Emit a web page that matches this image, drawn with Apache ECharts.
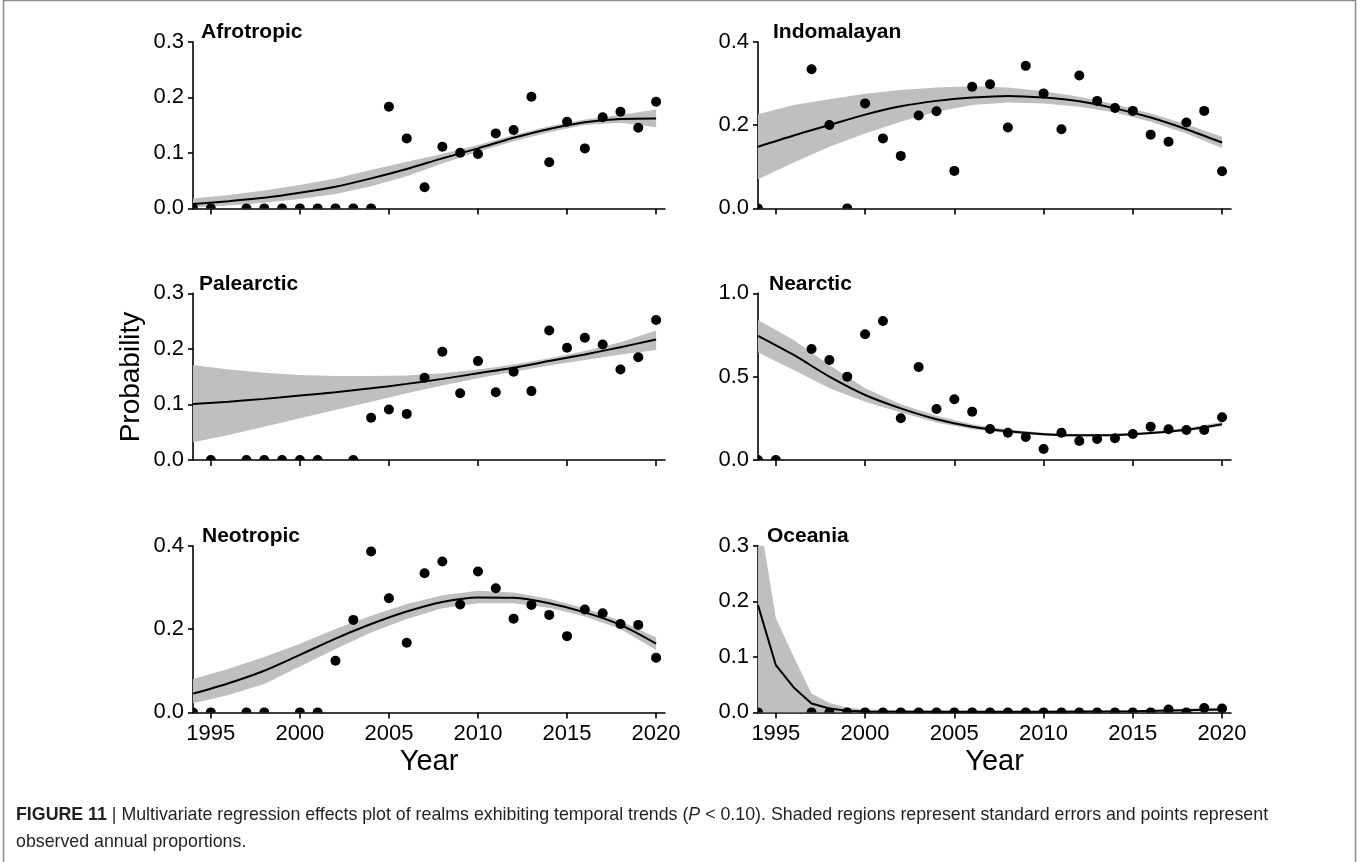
<!DOCTYPE html>
<html><head><meta charset="utf-8">
<script src="https://cdn.jsdelivr.net/npm/echarts@6/dist/echarts.min.js"></script>
<style>html,body{margin:0;padding:0;background:#fff}#c{width:1360px;height:862px}</style>
</head><body><div id="c"></div>
<script>
// ---------- DATA ----------
const years = [1994,1995,1996,1997,1998,1999,2000,2001,2002,2003,2004,2005,2006,2007,2008,2009,2010,2011,2012,2013,2014,2015,2016,2017,2018,2019,2020];
const xTicks = [1995,2000,2005,2010,2015,2020];
const fitYears = [1994,1996,1998,2000,2002,2004,2006,2008,2010,2012,2014,2016,2018,2020];
const oceFitYears = [1994,1995,1996,1997,1998,1999,2000,2005,2010,2015,2020];

const afroObs = [0,0,null,0,0,0,0,0,0,0,0,0.183,0.126,0.038,0.111,0.100,0.098,0.135,0.141,0.201,0.083,0.156,0.108,0.164,0.174,0.145,0.192];
const afroFit = [0.008,0.013,0.019,0.028,0.039,0.054,0.071,0.090,0.108,0.127,0.143,0.155,0.161,0.162];
const afroHi  = [0.018,0.024,0.032,0.042,0.054,0.069,0.084,0.098,0.114,0.132,0.148,0.160,0.168,0.178];
const afroLo  = [0.002,0.005,0.010,0.017,0.026,0.040,0.058,0.081,0.102,0.121,0.137,0.150,0.154,0.146];

const indoObs = [0,null,null,0.334,0.200,0,0.252,0.168,0.126,0.223,0.233,0.090,0.292,0.298,0.194,0.342,0.276,0.190,0.319,0.258,0.241,0.234,0.177,0.160,0.206,0.234,0.089];
const indoFit = [0.148,0.175,0.200,0.225,0.245,0.258,0.266,0.270,0.266,0.257,0.240,0.218,0.190,0.158];
const indoHi  = [0.226,0.248,0.262,0.275,0.284,0.290,0.293,0.290,0.281,0.268,0.250,0.228,0.202,0.172];
const indoLo  = [0.070,0.110,0.148,0.180,0.208,0.232,0.248,0.254,0.252,0.244,0.230,0.208,0.180,0.145];

const paleObs = [null,0,null,0,0,0,0,0,null,0,0.076,0.091,0.083,0.148,0.195,0.120,0.178,0.122,0.159,0.124,0.233,0.202,0.220,0.208,0.163,0.185,0.252];
const paleFit = [0.101,0.105,0.110,0.116,0.122,0.129,0.137,0.146,0.156,0.166,0.178,0.190,0.203,0.217];
const paleHi  = [0.171,0.163,0.157,0.153,0.151,0.151,0.152,0.156,0.163,0.172,0.183,0.196,0.212,0.233];
const paleLo  = [0.032,0.045,0.060,0.075,0.090,0.105,0.120,0.134,0.147,0.159,0.170,0.180,0.190,0.198];

const nearObs = [0,0,null,0.666,0.600,0.500,0.754,0.834,0.250,0.558,0.306,0.364,0.290,0.186,0.164,0.138,0.066,0.164,0.114,0.126,0.130,0.156,0.200,0.184,0.180,0.180,0.256];
const nearFit = [0.745,0.630,0.500,0.390,0.310,0.245,0.200,0.172,0.155,0.148,0.150,0.162,0.182,0.215];
const nearHi  = [0.840,0.720,0.570,0.430,0.335,0.265,0.215,0.183,0.163,0.156,0.158,0.170,0.192,0.228];
const nearLo  = [0.645,0.540,0.430,0.350,0.285,0.225,0.185,0.161,0.147,0.140,0.142,0.154,0.172,0.202];

const neoObs = [0,0,null,0,0,null,0,0,0.124,0.222,0.386,0.274,0.167,0.334,0.362,0.259,0.338,0.298,0.225,0.258,0.234,0.183,0.247,0.238,0.212,0.210,0.131];
const neoFit = [0.045,0.070,0.100,0.138,0.177,0.212,0.242,0.265,0.276,0.275,0.262,0.240,0.210,0.165];
const neoHi  = [0.080,0.105,0.133,0.165,0.200,0.232,0.260,0.281,0.292,0.288,0.273,0.250,0.220,0.180];
const neoLo  = [0.022,0.042,0.068,0.110,0.152,0.192,0.224,0.250,0.262,0.262,0.251,0.230,0.200,0.150];

const oceObs = [0,null,null,0,0,0,0,0,0,0,0,0,0,0,0,0,0,0,0,0,0,0,0,0.005,0,0.008,0.007];
const oceFit = [0.193,0.085,0.045,0.016,0.007,0.003,0.0015,0.001,0.001,0.002,0.005];
const oceHi  = [0.367,0.170,0.100,0.034,0.017,0.009,0.005,0.003,0.003,0.004,0.009];
const oceLo  = [0,0,0,0,0,0,0,0,0,0,0.002];

const names = ['Afrotropic','Indomalayan','Palearctic','Nearctic','Neotropic','Oceania'];
const yMaxes = [0.3,0.4,0.3,1.0,0.4,0.3];
const yIntervals = [0.1,0.2,0.1,0.5,0.2,0.1];

// ---------- LAYOUT ----------
const FONT = '"Liberation Sans", Arial, Helvetica, sans-serif';
const colLeft = [193, 758], colWidth = [472, 473];
const rowTop = [41.7, 293.3, 545.7], rowH = 166.7;
const titleX = [201, 773, 199, 769, 202, 767];

const panels = [
  {obs: afroObs, fit: afroFit, hi: afroHi, lo: afroLo, fx: fitYears, smooth: 0.3},
  {obs: indoObs, fit: indoFit, hi: indoHi, lo: indoLo, fx: fitYears, smooth: 0.3},
  {obs: paleObs, fit: paleFit, hi: paleHi, lo: paleLo, fx: fitYears, smooth: 0.3},
  {obs: nearObs, fit: nearFit, hi: nearHi, lo: nearLo, fx: fitYears, smooth: 0.3},
  {obs: neoObs,  fit: neoFit,  hi: neoHi,  lo: neoLo,  fx: fitYears, smooth: 0.3},
  {obs: oceObs,  fit: oceFit,  hi: oceHi,  lo: oceLo,  fx: oceFitYears, smooth: false}
];

function gridClip(params) {
  const cs = params.coordSys;
  return {type: 'rect', shape: {x: cs.x, y: cs.y, width: cs.width, height: cs.height}};
}

const grid = [], xAxis = [], yAxis = [], series = [], graphic = [];
panels.forEach((p, i) => {
  const col = i % 2, row = Math.floor(i / 2);
  grid.push({left: colLeft[col], top: rowTop[row], width: colWidth[col], height: rowH, containLabel: false});
  xAxis.push({
    type: 'value', gridIndex: i, min: 1994, max: 2020.5,
    axisLine: {show: true, onZero: false, lineStyle: {color: '#000', width: 1.6}},
    axisTick: {show: true, customValues: xTicks, length: 6, lineStyle: {color: '#000', width: 1.6}},
    axisLabel: {show: row === 2, customValues: xTicks, fontSize: 22, color: '#000', fontFamily: FONT, margin: 11,
      formatter: v => String(v)},
    splitLine: {show: false}
  });
  yAxis.push({
    type: 'value', gridIndex: i, min: 0, max: yMaxes[i], interval: yIntervals[i],
    axisLine: {show: true, lineStyle: {color: '#000', width: 1.6}},
    axisTick: {show: true, length: 5, lineStyle: {color: '#000', width: 1.6}},
    axisLabel: {fontSize: 22, color: '#000', fontFamily: FONT, margin: 9, formatter: v => v.toFixed(1)},
    splitLine: {show: false}
  });
  // standard-error band
  series.push({
    type: 'custom', xAxisIndex: i, yAxisIndex: i, silent: true, z: 1,
    data: [[p.fx[0], p.lo[0]]],
    renderItem: (params, api) => {
      const pts = [];
      p.fx.forEach((x, k) => pts.push(api.coord([x, p.hi[k]])));
      for (let k = p.fx.length - 1; k >= 0; k--) pts.push(api.coord([p.fx[k], p.lo[k]]));
      return {type: 'polygon', shape: {points: pts}, style: {fill: '#bfbfbf', stroke: null}, clipPath: gridClip(params)};
    }
  });
  // fitted curve
  series.push({
    type: 'line', xAxisIndex: i, yAxisIndex: i, silent: true, z: 3,
    data: p.fx.map((x, k) => [x, p.fit[k]]), smooth: p.smooth, symbol: 'none',
    lineStyle: {color: '#000', width: 2}
  });
  // observed points (clipped to plot region like the original)
  series.push({
    type: 'custom', xAxisIndex: i, yAxisIndex: i, silent: true, z: 4,
    data: years.map((y, k) => [y, p.obs[k]]).filter(d => d[1] !== null),
    renderItem: (params, api) => {
      const c = api.coord([api.value(0), api.value(1)]);
      return {type: 'circle', shape: {cx: c[0], cy: c[1], r: 5}, style: {fill: '#000'}, clipPath: gridClip(params)};
    }
  });
  graphic.push({type: 'text', x: titleX[i], y: rowTop[row] - 9, silent: true,
    style: {text: names[i], font: 'bold 21px ' + FONT, fill: '#000', verticalAlign: 'middle'}});
});

graphic.push({type: 'text', x: 429, y: 762, silent: true,
  style: {text: 'Year', font: '29px ' + FONT, fill: '#000', align: 'center', verticalAlign: 'middle'}});
graphic.push({type: 'text', x: 994.5, y: 762, silent: true,
  style: {text: 'Year', font: '29px ' + FONT, fill: '#000', align: 'center', verticalAlign: 'middle'}});
graphic.push({type: 'text', x: 131, y: 377, rotation: Math.PI / 2, silent: true,
  style: {text: 'Probability', font: '28px ' + FONT, fill: '#000', align: 'center', verticalAlign: 'middle'}});

graphic.push({type: 'rect', silent: true, shape: {x: 3.5, y: 0.5, width: 1352, height: 870},
  style: {fill: null, stroke: '#8c8c8c', lineWidth: 1.5}});

const CAP = 17.8;
const capStyle = {fontSize: CAP, fontFamily: FONT, fill: '#231f20'};
graphic.push({type: 'text', x: 16, y: 815, silent: true,
  style: Object.assign({
    text: '{b|FIGURE 11} | Multivariate regression effects plot of realms exhibiting temporal trends ({i|P} < 0.10). Shaded regions represent standard errors and points represent',
    verticalAlign: 'middle',
    rich: {b: {fontWeight: 'bold', fontSize: CAP, fontFamily: FONT, fill: '#231f20'}, i: {fontStyle: 'italic', fontSize: CAP, fontFamily: FONT, fill: '#231f20'}}
  }, capStyle)});
graphic.push({type: 'text', x: 16, y: 842, silent: true,
  style: Object.assign({text: 'observed annual proportions.', verticalAlign: 'middle'}, capStyle)});

const chart = echarts.init(document.getElementById('c'), null, {renderer: 'canvas'});
chart.setOption({animation: false, backgroundColor: '#fff', grid, xAxis, yAxis, series, graphic});
</script></body></html>
